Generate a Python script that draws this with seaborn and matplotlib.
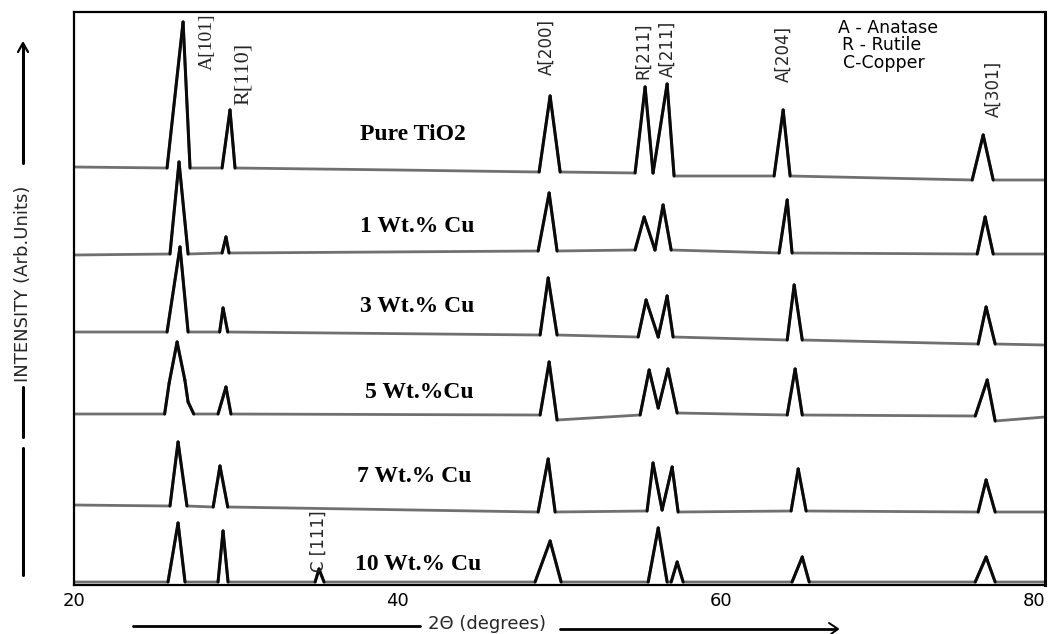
import numpy as np
import pandas as pd
import matplotlib
matplotlib.use("Agg")
import matplotlib.pyplot as plt
import seaborn as sns
from matplotlib.lines import Line2D

# ---------------- data ----------------
samples = ["Pure TiO2", "1 Wt.% Cu", "3 Wt.% Cu", "5 Wt.%Cu", "7 Wt.% Cu", "10 Wt.% Cu"]

two_theta_pure = [20.0, 25.75, 26.74, 27.17, 29.15, 29.64, 29.95, 40.0, 48.74, 49.42, 50.04,
                  54.67, 55.29, 55.78, 56.65, 57.08, 63.26, 63.82, 64.25, 75.5, 76.18, 76.8, 80.0]
intensity_pure = [418, 417, 563, 417, 417, 475, 417, 415, 413, 489, 413,
                  412, 498, 412, 501, 409, 409, 475, 409, 405, 450, 405, 405]

two_theta_1 = [20.0, 25.93, 26.49, 27.05, 29.15, 29.39, 29.58, 48.68, 49.36, 49.85,
               54.67, 55.23, 55.9, 56.4, 56.9, 63.57, 64.07, 64.37, 75.81, 76.3, 76.8, 80.0]
intensity_1 = [330, 331, 423, 331, 332, 348, 332, 334, 392, 334,
               335, 368, 335, 380, 335, 332, 385, 332, 331, 368, 331, 331]

two_theta_3 = [20.0, 25.75, 26.55, 27.05, 29.0, 29.21, 29.5, 48.8, 49.3, 49.85,
               54.86, 55.35, 56.1, 56.65, 57.02, 64.07, 64.5, 65.0, 75.87, 76.36, 76.92, 80.0]
intensity_3 = [253, 253, 338, 253, 253, 277, 253, 250, 307, 250,
               248, 285, 248, 289, 248, 245, 300, 245, 241, 278, 241, 240]

two_theta_5 = [20.0, 25.6, 25.88, 26.37, 26.85, 27.05, 27.4, 28.9, 29.39, 29.7, 48.8, 49.36, 49.85,
               54.98, 55.54, 56.1, 56.7, 57.27, 64.07, 64.56, 65.0, 75.69, 76.43, 76.92, 80.0]
intensity_5 = [171, 171, 202, 243, 205, 183, 171, 171, 198, 171, 170, 223, 165,
               170, 215, 177, 216, 172, 170, 216, 170, 169, 205, 164, 168]

two_theta_7 = [20.0, 25.93, 26.43, 26.98, 28.6, 29.02, 29.5, 48.68, 49.3, 49.73,
               55.41, 55.78, 56.34, 56.96, 57.33, 64.31, 64.75, 65.24, 75.87, 76.36, 76.92, 80.0]
intensity_7 = [80, 79, 143, 79, 78, 119, 78, 73, 126, 73,
               74, 122, 75, 118, 73, 74, 116, 74, 73, 105, 73, 73]

two_theta_10 = [20.0, 25.81, 26.43, 26.86, 28.9, 29.21, 29.52, 34.9, 35.14, 35.45, 48.49, 49.42, 50.1,
                55.48, 56.1, 56.65, 56.9, 57.27, 57.64, 64.37, 65.0, 65.43, 75.69, 76.36, 76.92, 80.0]
intensity_10 = [3, 3, 62, 3, 3, 54, 3, 3, 16, 3, 3, 44, 3,
                3, 57, 3, 3, 23, 3, 3, 28, 3, 3, 28, 3, 3]

traces_x = [two_theta_pure, two_theta_1, two_theta_3, two_theta_5, two_theta_7, two_theta_10]
traces_y = [intensity_pure, intensity_1, intensity_3, intensity_5, intensity_7, intensity_10]

# sample-label anchor positions (2θ, intensity)
label_x = [37.68, 37.68, 37.68, 37.98, 37.49, 37.37]
label_y = [450, 358, 278, 193, 108, 20]

peak_labels = ["A[101]", "R[110]", "A[200]", "R[211]", "A[211]", "A[204]", "A[301]", "C [111]"]
peak_label_x = [28.22, 30.45, 49.23, 55.17, 56.71, 63.82, 76.8, 35.14]
peak_label_y = [543, 511, 538, 534, 536, 531, 496, 44]

legend_lines = ["A - Anatase", "R - Rutile", "C-Copper"]
legend_x = [67.22, 67.47, 67.53]
legend_y = [557, 540, 522]

x_ticks = [20, 40, 60, 80]

# ---------------- figure ----------------
sns.set_style("white")
plt.rcParams["font.family"] = ["DejaVu Sans"]

W, H = 1050, 634
fig = plt.figure(figsize=(W / 100, H / 100), dpi=100)
ax = fig.add_axes([74 / W, 49 / H, 971 / W, 573 / H])

base_rows, peak_rows = [], []
seg = 0
for i, (xs, ys) in enumerate(zip(traces_x, traces_y)):
    for x, y in zip(xs, ys):
        base_rows.append({"tt": x, "I": y, "trace": i})
    for k in range(len(xs) - 1):
        if abs(ys[k + 1] - ys[k]) > 3 and (xs[k + 1] - xs[k]) < 2.0:
            peak_rows.append({"tt": xs[k], "I": ys[k], "seg": seg})
            peak_rows.append({"tt": xs[k + 1], "I": ys[k + 1], "seg": seg})
            seg += 1

base_df = pd.DataFrame(base_rows)
peak_df = pd.DataFrame(peak_rows)

sns.lineplot(data=base_df, x="tt", y="I", units="trace", estimator=None, sort=False,
             color="#707070", lw=2.0, ax=ax, legend=False)
sns.lineplot(data=peak_df, x="tt", y="I", units="seg", estimator=None, sort=False,
             color="#0a0a0a", lw=2.2, ax=ax, legend=False)

ax.set_xlim(20, 80)
ax.set_ylim(0, 573)
ax.set_xticks(x_ticks)
ax.set_xticklabels([str(t) for t in x_ticks], fontsize=13)
ax.get_xticklabels()[-1].set_horizontalalignment("right")
ax.set_yticks([])
ax.tick_params(axis="x", direction="in", length=5, width=1.5, pad=5, colors="black")
ax.set_xlabel("")
ax.set_ylabel("")
for s in ax.spines.values():
    s.set_visible(True)
    s.set_color("black")
    s.set_linewidth(1.6)
ax.spines["right"].set_linewidth(2.2)

# sample labels
for name, lx, ly in zip(samples, label_x, label_y):
    ax.text(lx, ly, name, fontsize=17, fontweight="bold", family="Liberation Serif",
            ha="left", va="center", color="black")

# peak labels
for lab, px, py in zip(peak_labels, peak_label_x, peak_label_y):
    if lab == "A[101]":
        ax.text(px, py, lab, rotation=90, fontsize=14, family="Liberation Serif",
                ha="center", va="center")
    elif lab == "R[110]":
        ax.text(px, py, lab, rotation=90, fontsize=16, family="Liberation Serif",
                ha="center", va="center")
    else:
        ax.text(px, py, lab, rotation=90, fontsize=12, family="DejaVu Sans",
                ha="center", va="center")

# legend text
for t, lx, ly in zip(legend_lines, legend_x, legend_y):
    ax.text(lx, ly, t, fontsize=12.5, ha="left", va="center", color="black")

# y axis label with arrows (figure pixel coordinates)
def fx(px):
    return px / W

def fy(py):
    return 1 - py / H

fig.text(fx(23), fy(284), "INTENSITY (Arb.Units)", rotation=90, ha="center", va="center", fontsize=13)
fig.add_artist(Line2D([fx(23), fx(23)], [fy(387), fy(437)], color="black", lw=2.2))
fig.add_artist(Line2D([fx(23), fx(23)], [fy(448), fy(575)], color="black", lw=2.2))
fig.add_artist(Line2D([fx(23), fx(23)], [fy(163), fy(45)], color="black", lw=2.2))
fig.add_artist(Line2D([fx(18), fx(23), fx(28)], [fy(52), fy(43), fy(52)], color="black", lw=1.6))

# x axis label with arrows
fig.text(fx(487), fy(624), "2Θ (degrees)", ha="center", va="center", fontsize=13)
fig.add_artist(Line2D([fx(133), fx(420)], [fy(626), fy(626)], color="black", lw=2.0))
fig.add_artist(Line2D([fx(560), fx(836)], [fy(629), fy(629)], color="black", lw=2.0))
fig.add_artist(Line2D([fx(829), fx(838), fx(831)], [fy(623), fy(629), fy(634)], color="black", lw=1.4))

fig.savefig("out.png", dpi=100)
